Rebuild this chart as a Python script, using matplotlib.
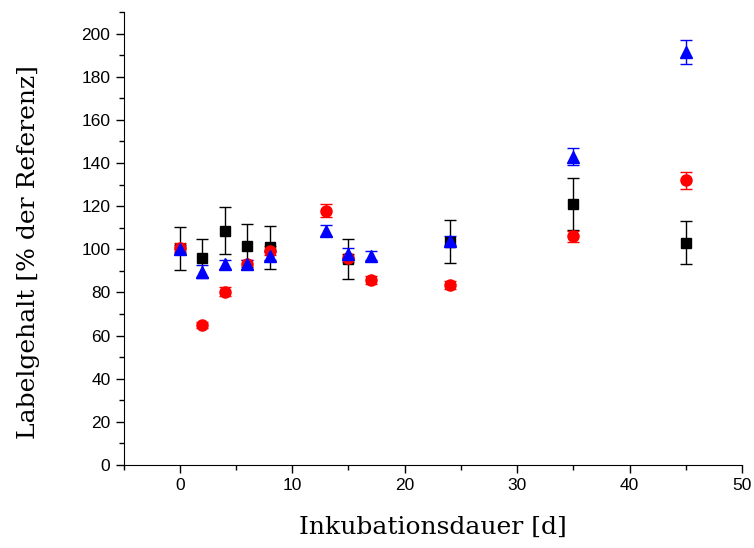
import matplotlib
matplotlib.use("Agg")
import matplotlib.pyplot as plt
from matplotlib.ticker import MultipleLocator

# Daten
tage_schwarz = [0, 2, 4, 6, 8, 15, 24, 35, 45]
werte_schwarz = [100.2, 96, 108.6, 101.6, 101, 95.5, 103.5, 121, 103]
fehler_schwarz = [10, 9, 11, 10, 10, 9.5, 10, 12, 10]

tage_rot = [0, 2, 4, 6, 8, 13, 15, 17, 24, 35, 45]
werte_rot = [100.7, 65, 80.3, 93, 99.3, 117.9, 96, 85.8, 83.5, 106, 132]
fehler_rot = [2, 1.5, 2, 2, 2, 3, 2, 2, 2, 2.5, 4]

tage_blau = [0, 2, 4, 6, 8, 13, 15, 17, 24, 35, 45]
werte_blau = [100, 89.5, 93, 93, 97, 108.6, 98, 97, 104, 143, 191.6]
fehler_blau = [2, 3, 2, 2, 2, 2.5, 2.5, 2, 2, 4, 5.5]

fig = plt.figure(figsize=(7.54, 5.48), dpi=100)
ax = fig.add_axes([0.164, 0.1515, 0.82, 0.8265])

ax.errorbar(tage_schwarz, werte_schwarz, yerr=fehler_schwarz, fmt='s', color='black',
            ecolor='black', elinewidth=1, capsize=4, capthick=1, markersize=7)
ax.errorbar(tage_rot, werte_rot, yerr=fehler_rot, fmt='o', color='red',
            ecolor='red', elinewidth=1, capsize=4, capthick=1, markersize=8)
ax.errorbar(tage_blau, werte_blau, yerr=fehler_blau, fmt='^', color='blue',
            ecolor='blue', elinewidth=1, capsize=4, capthick=1, markersize=8)

ax.set_xlim(-5, 50)
ax.set_ylim(0, 210)
ax.xaxis.set_major_locator(MultipleLocator(10))
ax.xaxis.set_minor_locator(MultipleLocator(5))
ax.yaxis.set_minor_locator(MultipleLocator(10))
ax.set_yticks(range(0, 201, 20))

for s in ['top', 'right']:
    ax.spines[s].set_visible(False)
ax.tick_params(which='major', direction='out', length=6, width=1,
               labelsize=12.5)
ax.tick_params(which='minor', direction='out', length=3.5, width=1)
for lab in ax.get_xticklabels() + ax.get_yticklabels():
    lab.set_fontfamily('Liberation Sans')

ax.set_xlabel('Inkubationsdauer [d]', fontsize=18, family='DejaVu Serif', labelpad=16)
ax.set_ylabel('Labelgehalt [% der Referenz]', fontsize=18, family='DejaVu Serif')
ax.yaxis.set_label_coords(-0.135, 0.47)

fig.savefig('out.png', dpi=100)
